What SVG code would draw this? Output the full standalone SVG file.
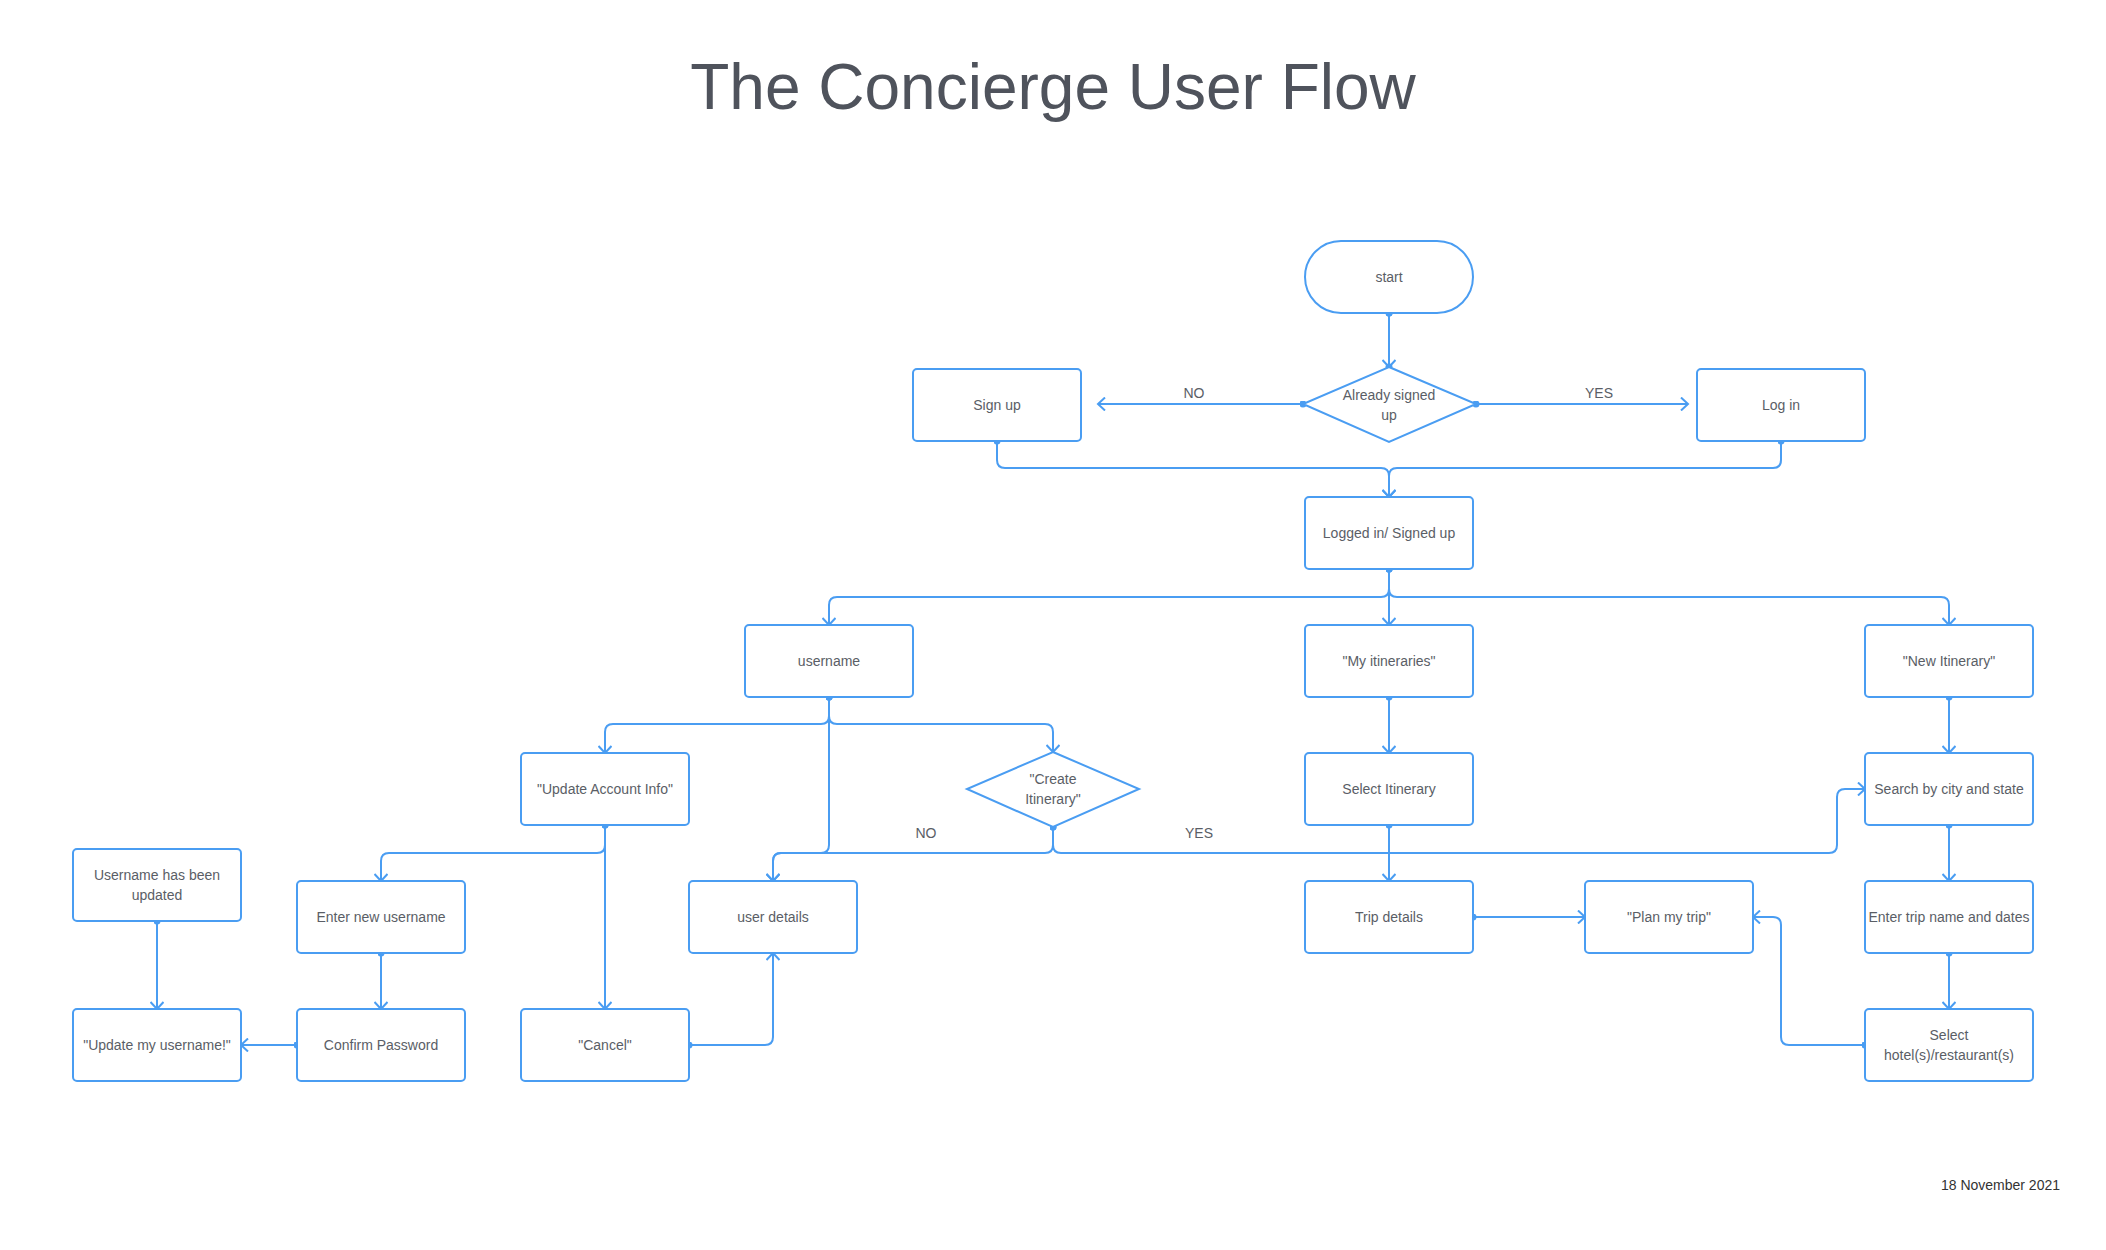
<svg xmlns="http://www.w3.org/2000/svg" width="2106" height="1250" viewBox="0 0 2106 1250">
<defs>
<style>
.node rect, .node path { fill: #ffffff; stroke: #4a9df2; stroke-width: 2; }
.node text { font-family: "Liberation Sans", Arial, sans-serif; font-size: 14px; fill: #5a5e66; text-anchor: middle; }
.conn path { fill: none; stroke: #4a9df2; stroke-width: 2; marker-start: url(#dot); marker-end: url(#arrow); }
.lbl { font-family: "Liberation Sans", Arial, sans-serif; font-size: 14px; fill: #5a5e66; text-anchor: middle; }
</style>
<marker id="arrow" viewBox="0 0 14 14" refX="8" refY="7" markerWidth="14" markerHeight="14" markerUnits="userSpaceOnUse" orient="auto-start-reverse">
<path d="M1,0.5 L8,7 L1,13.5" fill="none" stroke="#4a9df2" stroke-width="2"/>
</marker>
<marker id="dot" viewBox="0 0 8 8" refX="4" refY="4" markerWidth="7" markerHeight="7" markerUnits="userSpaceOnUse">
<circle cx="4" cy="4" r="4" fill="#4a9df2"/>
</marker>
</defs>
<rect width="2106" height="1250" fill="#ffffff"/>
<text x="1053" y="109" font-family="'Liberation Sans', Arial, sans-serif" font-size="64" fill="#4f535c" text-anchor="middle">The Concierge User Flow</text>
<text x="2060" y="1190" font-family="'Liberation Sans', Arial, sans-serif" font-size="14" fill="#333333" text-anchor="end">18 November 2021</text>

<g id="connectors" class="conn">
<path d="M1389,313 L1389,367" marker-start="url(#arrow)"/>
<path d="M1303,404 L1098,404"/>
<path d="M1476,404 L1688,404"/>
<path d="M997,441 L997,460 Q997,468 1005,468 L1381,468 Q1389,468 1389,476 L1389,497"/>
<path d="M1781,441 L1781,460 Q1781,468 1773,468 L1397,468 Q1389,468 1389,476 L1389,497"/>
<path d="M1389,569 L1389,589 Q1389,597 1381,597 L837,597 Q829,597 829,605 L829,625"/>
<path d="M1389,569 L1389,625"/>
<path d="M1389,569 L1389,589 Q1389,597 1397,597 L1941,597 Q1949,597 1949,605 L1949,625"/>
<path d="M829,697 L829,716 Q829,724 821,724 L613,724 Q605,724 605,732 L605,753"/>
<path d="M829,697 L829,716 Q829,724 837,724 L1045,724 Q1053,724 1053,732 L1053,752"/>
<path d="M829,697 L829,845 Q829,853 821,853 L781,853 Q773,853 773,861 L773,881"/>
<path d="M1053,827 L1053,845 Q1053,853 1045,853 L781,853 Q773,853 773,861 L773,881"/>
<path d="M1053,827 L1053,845 Q1053,853 1061,853 L1829,853 Q1837,853 1837,845 L1837,797 Q1837,789 1845,789 L1865,789"/>
<path d="M605,825 L605,845 Q605,853 597,853 L389,853 Q381,853 381,861 L381,881"/>
<path d="M605,825 L605,1009"/>
<path d="M381,953 L381,1009"/>
<path d="M297,1045 L241,1045"/>
<path d="M157,921 L157,1009"/>
<path d="M689,1045 L765,1045 Q773,1045 773,1037 L773,953"/>
<path d="M1389,697 L1389,753"/>
<path d="M1389,825 L1389,881"/>
<path d="M1473,917 L1585,917"/>
<path d="M1949,697 L1949,753"/>
<path d="M1949,825 L1949,881"/>
<path d="M1949,953 L1949,1009"/>
<path d="M1865,1045 L1789,1045 Q1781,1045 1781,1037 L1781,925 Q1781,917 1773,917 L1753,917"/>
</g>
<circle cx="1389" cy="313" r="3.5" fill="#4a9df2"/>
<circle cx="1389" cy="367" r="3.5" fill="#4a9df2"/>

<g id="labels">
<text class="lbl" x="1194" y="398">NO</text>
<text class="lbl" x="1599" y="398">YES</text>
<text class="lbl" x="926" y="838">NO</text>
<text class="lbl" x="1199" y="838">YES</text>
</g>

<g id="start" class="node"><rect x="1305" y="241" width="168" height="72" rx="36"/><text x="1389" y="282">start</text></g>
<g id="already" class="node"><path d="M1389,367 L1476,404 L1389,442 L1303,404 Z"/><text x="1389" y="400">Already signed</text><text x="1389" y="420">up</text></g>
<g id="signup" class="node"><rect x="913" y="369" width="168" height="72" rx="4"/><text x="997" y="410">Sign up</text></g>
<g id="login" class="node"><rect x="1697" y="369" width="168" height="72" rx="4"/><text x="1781" y="410">Log in</text></g>
<g id="loggedin" class="node"><rect x="1305" y="497" width="168" height="72" rx="4"/><text x="1389" y="538">Logged in/ Signed up</text></g>
<g id="username" class="node"><rect x="745" y="625" width="168" height="72" rx="4"/><text x="829" y="666">username</text></g>
<g id="myitin" class="node"><rect x="1305" y="625" width="168" height="72" rx="4"/><text x="1389" y="666">"My itineraries"</text></g>
<g id="newitin" class="node"><rect x="1865" y="625" width="168" height="72" rx="4"/><text x="1949" y="666">"New Itinerary"</text></g>
<g id="updacct" class="node"><rect x="521" y="753" width="168" height="72" rx="4"/><text x="605" y="794">"Update Account Info"</text></g>
<g id="create" class="node"><path d="M1053,752 L1139,789 L1053,827 L967,789 Z"/><text x="1053" y="784">"Create</text><text x="1053" y="804">Itinerary"</text></g>
<g id="selitin" class="node"><rect x="1305" y="753" width="168" height="72" rx="4"/><text x="1389" y="794">Select Itinerary</text></g>
<g id="search" class="node"><rect x="1865" y="753" width="168" height="72" rx="4"/><text x="1949" y="794">Search by city and state</text></g>
<g id="updated" class="node"><rect x="73" y="849" width="168" height="72" rx="4"/><text x="157" y="880">Username has been</text><text x="157" y="900">updated</text></g>
<g id="enternew" class="node"><rect x="297" y="881" width="168" height="72" rx="4"/><text x="381" y="922">Enter new username</text></g>
<g id="userdet" class="node"><rect x="689" y="881" width="168" height="72" rx="4"/><text x="773" y="922">user details</text></g>
<g id="tripdet" class="node"><rect x="1305" y="881" width="168" height="72" rx="4"/><text x="1389" y="922">Trip details</text></g>
<g id="plan" class="node"><rect x="1585" y="881" width="168" height="72" rx="4"/><text x="1669" y="922">"Plan my trip"</text></g>
<g id="entertrip" class="node"><rect x="1865" y="881" width="168" height="72" rx="4"/><text x="1949" y="922">Enter trip name and dates</text></g>
<g id="updmy" class="node"><rect x="73" y="1009" width="168" height="72" rx="4"/><text x="157" y="1050">"Update my username!"</text></g>
<g id="confirm" class="node"><rect x="297" y="1009" width="168" height="72" rx="4"/><text x="381" y="1050">Confirm Password</text></g>
<g id="cancel" class="node"><rect x="521" y="1009" width="168" height="72" rx="4"/><text x="605" y="1050">"Cancel"</text></g>
<g id="selhotel" class="node"><rect x="1865" y="1009" width="168" height="72" rx="4"/><text x="1949" y="1040">Select</text><text x="1949" y="1060">hotel(s)/restaurant(s)</text></g>
</svg>
